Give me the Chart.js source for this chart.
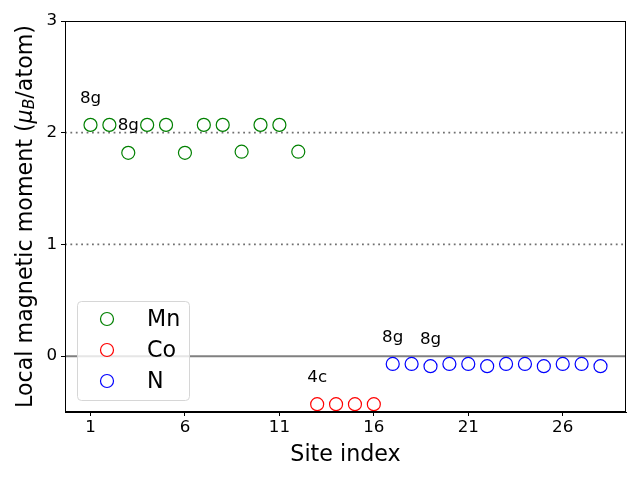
<!DOCTYPE html>
<html>
<head>
<meta charset="utf-8">
<script src="https://cdn.jsdelivr.net/npm/chart.js@4"></script>
<style>
  html, body { margin: 0; padding: 0; background: #fff; }
  #wrap { width: 640px; height: 480px; }
</style>
</head>
<body>
<div id="wrap"><canvas id="myChart" width="640" height="480"></canvas></div>
<script>
// site indices per species
const mnSites = [1, 2, 3, 4, 5, 6, 7, 8, 9, 10, 11, 12];
const mnMoments = [2.07, 2.07, 1.82, 2.07, 2.07, 1.82, 2.07, 2.07, 1.83, 2.07, 2.07, 1.83];
const coSites = [13, 14, 15, 16];
const coMoments = [-0.43, -0.43, -0.43, -0.43];
const nSites = [17, 18, 19, 20, 21, 22, 23, 24, 25, 26, 27, 28];
const nMoments = [-0.07, -0.07, -0.09, -0.07, -0.07, -0.09, -0.07, -0.07, -0.09, -0.07, -0.07, -0.09];

const xTicks = [1, 6, 11, 16, 21, 26];
const yTicks = [0, 1, 2, 3];

// Wyckoff labels
const siteLabels = ['8g', '8g', '4c', '8g', '8g'];
const siteLabelX = [1, 3, 13, 17, 19];
const siteLabelY = [2.27, 2.02, -0.23, 0.13, 0.11];

const dottedLines = [1, 2];
const solidLines = [0];

const FONT = "'DejaVu Sans', sans-serif";

function pts(xs, ys) {
    return xs.map((x, i) => ({ x: x, y: ys[i] }));
}

const extras = {
    id: 'extras',
    beforeDatasetsDraw(chart) {
        const ctx = chart.ctx;
        const a = chart.chartArea;
        const ys = chart.scales.y;
        ctx.save();
        ctx.strokeStyle = '#707070';
        ctx.lineWidth = 1.7;
        ctx.setLineDash([1.8, 3.6]);
        dottedLines.forEach(v => {
            const py = ys.getPixelForValue(v);
            ctx.beginPath();
            ctx.moveTo(a.left, py);
            ctx.lineTo(a.right, py);
            ctx.stroke();
        });
        ctx.setLineDash([]);
        ctx.strokeStyle = '#808080';
        ctx.lineWidth = 2;
        solidLines.forEach(v => {
            const py = ys.getPixelForValue(v);
            ctx.beginPath();
            ctx.moveTo(a.left, py);
            ctx.lineTo(a.right, py);
            ctx.stroke();
        });
        ctx.restore();
    },
    afterDraw(chart) {
        const ctx = chart.ctx;
        const a = chart.chartArea;
        const xs = chart.scales.x;
        const ys = chart.scales.y;
        ctx.save();

        // frame
        ctx.strokeStyle = '#000';
        ctx.lineWidth = 1;
        ctx.strokeRect(a.left + 0.5, a.top + 0.5, a.right - a.left - 1, a.bottom - a.top - 1);

        // site labels
        ctx.fillStyle = '#000';
        ctx.font = '16.7px ' + FONT;
        ctx.textAlign = 'center';
        ctx.textBaseline = 'alphabetic';
        siteLabels.forEach((t, i) => {
            ctx.fillText(t, xs.getPixelForValue(siteLabelX[i]), ys.getPixelForValue(siteLabelY[i]));
        });

        // x title
        ctx.font = '22.2px ' + FONT;
        ctx.textBaseline = 'middle';
        ctx.fillText('Site index', (a.left + a.right) / 2, 455);

        // y title with subscript
        const parts = [
            { t: 'Local magnetic moment (', f: '22.2px ' + FONT, dy: 0 },
            { t: 'μ', f: 'italic 22.2px ' + FONT, dy: 0 },
            { t: 'B', f: 'italic 15.5px ' + FONT, dy: 4 },
            { t: '/atom)', f: '22.2px ' + FONT, dy: 0 }
        ];
        let total = 0;
        parts.forEach(p => { ctx.font = p.f; p.w = ctx.measureText(p.t).width; total += p.w; });
        ctx.translate(26, (a.top + a.bottom) / 2);
        ctx.rotate(-Math.PI / 2);
        ctx.textAlign = 'left';
        let cx = -total / 2;
        parts.forEach(p => {
            ctx.font = p.f;
            ctx.fillText(p.t, cx, p.dy);
            cx += p.w;
        });
        ctx.setTransform(1, 0, 0, 1, 0, 0);

        // legend
        const lx = 77, ly = 301, lw = 112, lh = 99;
        ctx.fillStyle = 'rgba(255,255,255,0.8)';
        ctx.strokeStyle = '#d6d6d6';
        ctx.lineWidth = 1;
        ctx.beginPath();
        ctx.roundRect(lx + 0.5, ly + 0.5, lw, lh, 4);
        ctx.fill();
        ctx.stroke();
        ctx.font = '22.2px ' + FONT;
        ctx.textBaseline = 'middle';
        chart.data.datasets.forEach((ds, i) => {
            const yy = ly + 18 + i * 31;
            ctx.beginPath();
            ctx.arc(lx + 30, yy, 6.5, 0, Math.PI * 2);
            ctx.strokeStyle = ds.borderColor;
            ctx.lineWidth = 1.2;
            ctx.stroke();
            ctx.fillStyle = '#000';
            ctx.fillText(ds.label, lx + 70, yy + 1);
        });
        ctx.restore();
    }
};

const tickFont = { family: FONT, size: 16.7 };

new Chart('myChart', {
    type: 'scatter',
    data: {
        datasets: [
            { label: 'Mn', data: pts(mnSites, mnMoments), borderColor: 'green', backgroundColor: 'rgba(0,0,0,0)' },
            { label: 'Co', data: pts(coSites, coMoments), borderColor: 'red', backgroundColor: 'rgba(0,0,0,0)' },
            { label: 'N', data: pts(nSites, nMoments), borderColor: 'blue', backgroundColor: 'rgba(0,0,0,0)' }
        ]
    },
    options: {
        responsive: false,
        animation: false,
        layout: { padding: { top: 21, right: 14, left: 0, bottom: 0 } },
        elements: { point: { radius: 6.5, borderWidth: 1.2, hoverRadius: 6.5 } },
        plugins: { legend: { display: false }, tooltip: { enabled: false } },
        scales: {
            x: {
                type: 'linear',
                min: -0.35,
                max: 29.35,
                afterBuildTicks: s => { s.ticks = xTicks.map(v => ({ value: v })); },
                afterFit: s => { s.height = 68; },
                ticks: { color: '#000', font: tickFont, padding: 2, maxRotation: 0 },
                grid: { drawOnChartArea: false, tickLength: 4, tickColor: '#000' },
                border: { color: '#000', width: 1 }
            },
            y: {
                min: -0.5,
                max: 3,
                afterBuildTicks: s => { s.ticks = yTicks.map(v => ({ value: v })); },
                afterFit: s => { s.width = 65; },
                ticks: { color: '#000', font: tickFont, padding: 4 },
                grid: { drawOnChartArea: false, tickLength: 4, tickColor: '#000' },
                border: { color: '#000', width: 1 }
            }
        }
    },
    plugins: [extras]
});
</script>
</body>
</html>
